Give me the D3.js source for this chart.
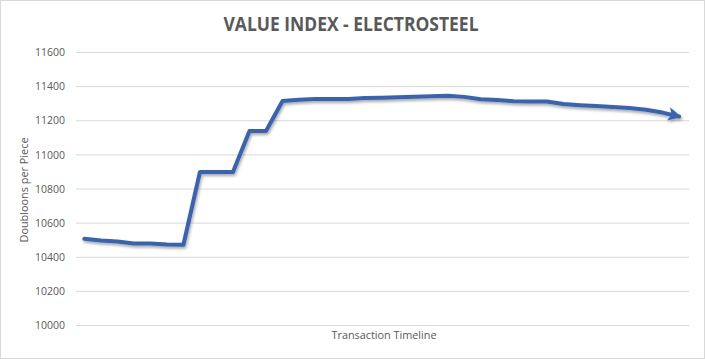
<!DOCTYPE html>
<html><head><meta charset="utf-8">
<script src="https://cdn.jsdelivr.net/npm/d3@7"></script>
<style>
html,body{margin:0;padding:0;background:#fff;}
svg{display:block;}
</style></head>
<body>
<script>
const title = "VALUE INDEX - ELECTROSTEEL";
const yTitle = "Doubloons per Piece";
const xTitle = "Transaction Timeline";
const periods = d3.range(1, 38).map(String);
const values = [10505,10495,10490,10478,10478,10472,10470,10897,10897,10897,11137,11137,11313,11320,11325,11325,11325,11330,11332,11335,11338,11340,11343,11337,11323,11318,11312,11310,11310,11295,11288,11283,11278,11272,11262,11245,11222];
const yTicks = [10000,10200,10400,10600,10800,11000,11200,11400,11600];

const W = 705, H = 359;
const svg = d3.select("body").append("svg").attr("width", W).attr("height", H);
const defs = svg.append("defs");
const f = defs.append("filter").attr("id","shadow").attr("x","-5%").attr("y","-20%").attr("width","110%").attr("height","140%");
f.append("feDropShadow").attr("dx",1).attr("dy",2).attr("stdDeviation",1.5).attr("flood-color","#000").attr("flood-opacity",0.35);
defs.append("marker").attr("id","arrow").attr("viewBox","0 0 10 10").attr("refX",8).attr("refY",5)
  .attr("markerWidth",3.4).attr("markerHeight",3.4).attr("orient","auto").attr("markerUnits","strokeWidth")
  .append("path").attr("d","M0,0 L10,5 L0,10 L2.5,5 Z").attr("fill","#3b64ad");

svg.append("rect").attr("x",0.5).attr("y",0.5).attr("width",W-1).attr("height",H-1)
  .attr("fill","#fff").attr("stroke","#d9d9d9");

const x = d3.scalePoint().domain(periods).range([84.3, 679]);
const y = d3.scaleLinear().domain([10000, 11600]).range([325, 52]);

const grid = svg.append("g");
grid.selectAll("line").data(yTicks).join("line")
  .attr("x1",76).attr("x2",689).attr("y1",d=>y(d)+0.5).attr("y2",d=>y(d)+0.5)
  .attr("stroke","#d9d9d9").attr("stroke-width",1);

const yAxis = d3.axisLeft(y).tickValues(yTicks).tickSize(0).tickPadding(0).tickFormat(d3.format("d"));
const ga = svg.append("g").attr("transform","translate(65,0)").call(yAxis);
ga.select(".domain").remove();
ga.selectAll("text").attr("font-family","'Open Sans', sans-serif").attr("font-size",10.5).attr("fill","#595959").attr("dy","0.35em");

svg.append("text").attr("x",351).attr("y",31).attr("text-anchor","middle")
  .attr("font-family","'Open Sans', sans-serif").attr("font-weight","bold").attr("font-size",19)
  .attr("fill","#595959").attr("textLength",255).attr("lengthAdjust","spacingAndGlyphs").text(title);

svg.append("text").attr("transform","translate(28,190) rotate(-90)").attr("text-anchor","middle")
  .attr("font-family","'Open Sans', sans-serif").attr("font-size",10.5).attr("fill","#595959")
  .attr("textLength",105).attr("lengthAdjust","spacingAndGlyphs").text(yTitle);

svg.append("text").attr("x",384).attr("y",339).attr("text-anchor","middle")
  .attr("font-family","'Open Sans', sans-serif").attr("font-size",10.5).attr("fill","#595959")
  .attr("textLength",105).attr("lengthAdjust","spacingAndGlyphs").text(xTitle);

const line = d3.line().x((d,i)=>x(periods[i])).y(d=>y(d));
svg.append("path").datum(values).attr("d",line).attr("fill","none")
  .attr("stroke","#3b64ad").attr("stroke-width",4).attr("stroke-linejoin","round").attr("stroke-linecap","round")
  .attr("marker-end","url(#arrow)").attr("filter","url(#shadow)");
</script>
</body></html>
